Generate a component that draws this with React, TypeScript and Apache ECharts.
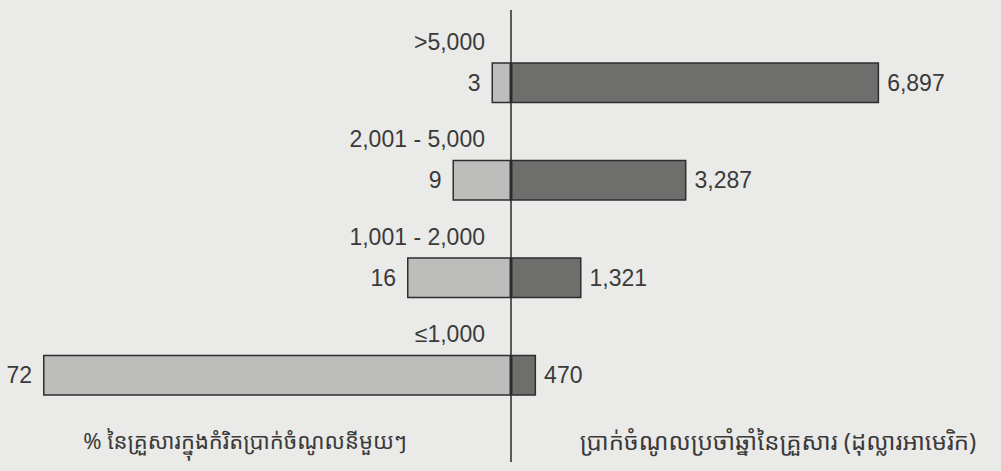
import React, { useEffect, useRef } from "react";
import * as echarts from "echarts";

const categories = [">5,000", "2,001 - 5,000", "1,001 - 2,000", "≤1,000"];
const sharePct = [3, 9, 16, 72];
const incomeUsd = [6897, 3287, 1321, 470];
const leftTitle = "% នៃគ្រួសារក្នុងកំរិតប្រាក់ចំណូលនីមួយៗ";
const rightTitle = "ប្រាក់ចំណូលប្រចាំឆ្នាំនៃគ្រួសារ (ដុល្លារអាមេរិក)";

const FONT = "'Liberation Sans', Arial, sans-serif";
const KHMER_FONT = "'Noto Sans Khmer', 'Khmer OS', 'Noto Sans', sans-serif";
const TEXT = "#3a3a3a";

export default function App() {
  const ref = useRef<HTMLDivElement>(null);
  useEffect(() => {
    if (!ref.current) return;
    const chart = echarts.init(ref.current, undefined, { renderer: "svg" });
    chart.setOption({
      animation: false,
      backgroundColor: "#eaeae8",
      grid: [
        { left: 43, width: 468, top: 34, height: 390 },
        { left: 511, width: 427, top: 34, height: 390 },
      ],
      xAxis: [
        { gridIndex: 0, type: "value", min: 0, max: 72, inverse: true, show: false },
        { gridIndex: 1, type: "value", min: 0, max: 8000, show: false },
      ],
      yAxis: [
        { gridIndex: 0, type: "category", data: categories, inverse: true, show: false },
        { gridIndex: 1, type: "category", data: categories, inverse: true, show: false },
      ],
      series: [
        {
          type: "bar",
          xAxisIndex: 0,
          yAxisIndex: 0,
          data: sharePct,
          barWidth: 41,
          itemStyle: { color: "#bdbdbb", borderColor: "#2e2e2e", borderWidth: 1.5 },
          label: {
            show: true,
            position: "left",
            distance: 11,
            color: TEXT,
            fontSize: 23,
            fontFamily: FONT,
          },
        },
        {
          type: "bar",
          xAxisIndex: 1,
          yAxisIndex: 1,
          data: incomeUsd,
          barWidth: 41,
          itemStyle: { color: "#6e6e6c", borderColor: "#2e2e2e", borderWidth: 1.5 },
          label: {
            show: true,
            position: "right",
            distance: 8,
            color: TEXT,
            fontSize: 23,
            fontFamily: FONT,
            formatter: (p: any) => Number(p.value).toLocaleString("en-US"),
          },
        },
        {
          type: "scatter",
          xAxisIndex: 1,
          yAxisIndex: 1,
          symbolSize: 0,
          itemStyle: { opacity: 1 },
          data: categories.map((c) => [0, c]),
          label: {
            show: true,
            position: "left",
            distance: 26,
            offset: [0, -41],
            color: TEXT,
            fontSize: 23,
            fontFamily: FONT,
            formatter: (p: any) => p.value[1],
          },
        },
      ],
      graphic: [
        {
          type: "line",
          shape: { x1: 511, y1: 10, x2: 511, y2: 462 },
          style: { stroke: "#2a2a2a", lineWidth: 1.5 },
          z: 100,
        },
        {
          type: "text",
          x: 245,
          y: 440,
          style: {
            text: leftTitle,
            align: "center",
            verticalAlign: "middle",
            fill: TEXT,
            font: `22px ${KHMER_FONT}`,
          },
        },
        {
          type: "text",
          x: 778,
          y: 440,
          style: {
            text: rightTitle,
            align: "center",
            verticalAlign: "middle",
            fill: TEXT,
            font: `24px ${KHMER_FONT}`,
          },
        },
      ],
    });
    return () => chart.dispose();
  }, []);
  return (
    <div
      ref={ref}
      style={{ position: "absolute", left: 0, top: 0, width: 1001, height: 471 }}
    />
  );
}
